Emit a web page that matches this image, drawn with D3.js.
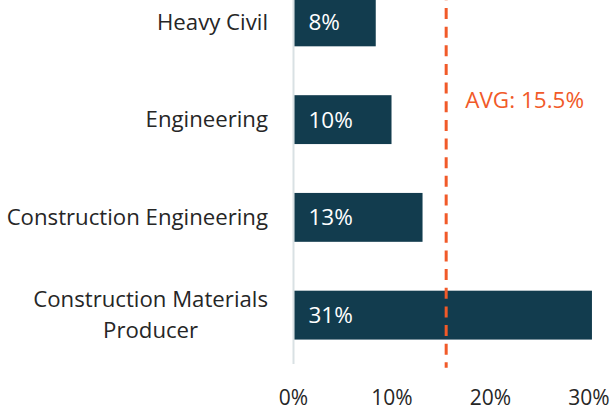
<!DOCTYPE html>
<html><head><meta charset="utf-8">
<script src="https://cdn.jsdelivr.net/npm/d3@7"></script>
<style>body{margin:0;background:#fff}svg{display:block}</style>
</head><body><div id="chart"></div>
<script>
const categories = ["Heavy Civil", "Engineering", "Construction Engineering", "Construction Materials Producer"];
const categoryLines = [["Heavy Civil"], ["Engineering"], ["Construction Engineering"], ["Construction Materials", "Producer"]];
const values = [8.35, 9.95, 13.1, 30.3];
const valueLabels = ["8%", "10%", "13%", "31%"];
const avgValue = 15.5;
const avgLabel = "AVG: 15.5%";
const xTicks = [0, 10, 20, 30];
const xTickLabels = ["0%", "10%", "20%", "30%"];

const W = 612, H = 414;
const font = "'Segoe UI', 'Open Sans', sans-serif";
const svg = d3.select("#chart").append("svg").attr("width", W).attr("height", H);

const x = d3.scaleLinear().domain([0, 30]).range([293.5, 589]);
const y = d3.scaleBand().domain(categories).range([-27, 364]).paddingInner(0.5).paddingOuter(0.25);

// axis line
svg.append("line").attr("x1", x(0)).attr("x2", x(0)).attr("y1", 0).attr("y2", 364)
  .attr("stroke", "#d9e1e4").attr("stroke-width", 2);

// bars
svg.selectAll("rect.bar").data(categories).join("rect")
  .attr("class", "bar")
  .attr("x", x(0) + 1)
  .attr("y", d => y(d))
  .attr("width", (d, i) => x(values[i]) - x(0) - 1)
  .attr("height", y.bandwidth())
  .attr("fill", "#123c4e");

// value labels
svg.selectAll("text.val").data(categories).join("text")
  .attr("class", "val")
  .attr("x", x(0) + 15)
  .attr("y", d => y(d) + y.bandwidth() / 2)
  .attr("dy", "0.35em")
  .attr("fill", "#fff")
  .attr("font-family", font)
  .attr("font-size", 22.5)
  .text((d, i) => valueLabels[i]);

// category labels (block right-aligned at 268, lines centred within block)
const labelRight = 268;
const cat = svg.selectAll("text.cat").data(categories).join("text")
  .attr("class", "cat")
  .attr("text-anchor", "middle")
  .attr("fill", "#262626")
  .attr("font-family", font)
  .attr("font-size", 22.2);
cat.each(function(d, i) {
  const lines = categoryLines[i];
  const cy = y(d) + y.bandwidth() / 2;
  const n = lines.length;
  const sel = d3.select(this);
  const spans = sel.selectAll("tspan").data(lines).join("tspan")
    .attr("y", (l, j) => cy + (j - (n - 1) / 2) * 31)
    .attr("dy", "0.35em")
    .text(l => l);
  let maxW = 0;
  spans.each(function() { maxW = Math.max(maxW, this.getComputedTextLength()); });
  spans.attr("x", labelRight - maxW / 2);
});

// avg line
svg.append("line").attr("x1", x(avgValue)).attr("x2", x(avgValue)).attr("y1", -10.65).attr("y2", 367.7)
  .attr("stroke", "#f15a29").attr("stroke-width", 3).attr("stroke-dasharray", "11,7.65");
svg.append("text").attr("x", x(avgValue) + 19).attr("y", 108)
  .attr("fill", "#f15a29").attr("font-family", font).attr("font-size", 22.5)
  .text(avgLabel);

// x ticks
svg.selectAll("text.tick").data(xTicks).join("text")
  .attr("class", "tick")
  .attr("x", d => x(d))
  .attr("y", 405)
  .attr("text-anchor", "middle")
  .attr("fill", "#262626")
  .attr("font-family", font)
  .attr("font-size", 21)
  .text((d, i) => xTickLabels[i]);
</script></body></html>
